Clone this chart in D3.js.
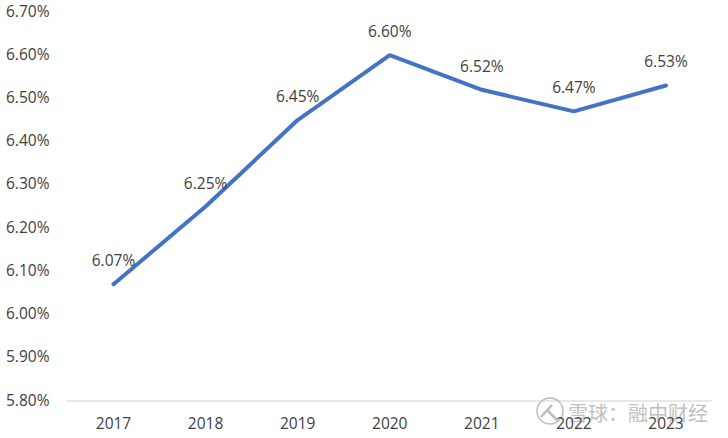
<!DOCTYPE html>
<html><head><meta charset="utf-8">
<style>html,body{margin:0;padding:0;background:#fff}svg{display:block}text{font-family:"Open Sans","Noto Sans",sans-serif}</style>
<script src="https://cdn.jsdelivr.net/npm/d3@7"></script></head>
<body><svg id="c" width="728" height="438"></svg>
<script>
const years=["2017","2018","2019","2020","2021","2022","2023"];
const rates=[6.07,6.25,6.45,6.60,6.52,6.47,6.53];
const yTicks=[5.8,5.9,6.0,6.1,6.2,6.3,6.4,6.5,6.6,6.7];
const svg=d3.select("#c");
const x=d3.scalePoint().domain(years).range([113.5,666]);
const y=d3.scaleLinear().domain([5.8,6.7]).range([401,12]);
svg.append("line").attr("x1",67).attr("x2",712).attr("y1",401).attr("y2",401).attr("stroke","#d0d0d0");
svg.selectAll(".yt").data(yTicks).join("text").attr("x",6).attr("y",d=>y(d)+4.5).attr("font-size",15.5).attr("fill","#404040").text(d=>d.toFixed(2)+"%");
// watermark
const wm=svg.append("g").attr("fill","none").attr("stroke","#bdbdbd");
wm.append("circle").attr("cx",550).attr("cy",411).attr("r",13).attr("stroke-width",1.5);
wm.append("path").attr("d","M541 417 L552 405 M548 411 L558 421").attr("stroke-width",2.5);
svg.append("text").attr("x",708).attr("y",421).attr("text-anchor","end").attr("font-size",20).attr("fill","#c0c0c0").style("font-family",'"Noto Sans CJK SC"').text("雪球：融中财经");
svg.selectAll(".xt").data(years).join("text").attr("x",d=>x(d)).attr("y",429).attr("text-anchor","middle").attr("font-size",15.5).attr("fill","#404040").text(d=>d);
const line=d3.line().x((d,i)=>x(years[i])).y(d=>y(d));
svg.append("path").datum(rates).attr("d",line).attr("fill","none").attr("stroke","#4472c4").attr("stroke-width",4).attr("stroke-linejoin","round").attr("stroke-linecap","round");
svg.selectAll(".dl").data(rates).join("text").attr("x",(d,i)=>x(years[i])).attr("y",d=>y(d)-18).attr("text-anchor","middle").attr("font-size",15.5).attr("fill","#404040").text(d=>d.toFixed(2)+"%");
</script></body></html>
